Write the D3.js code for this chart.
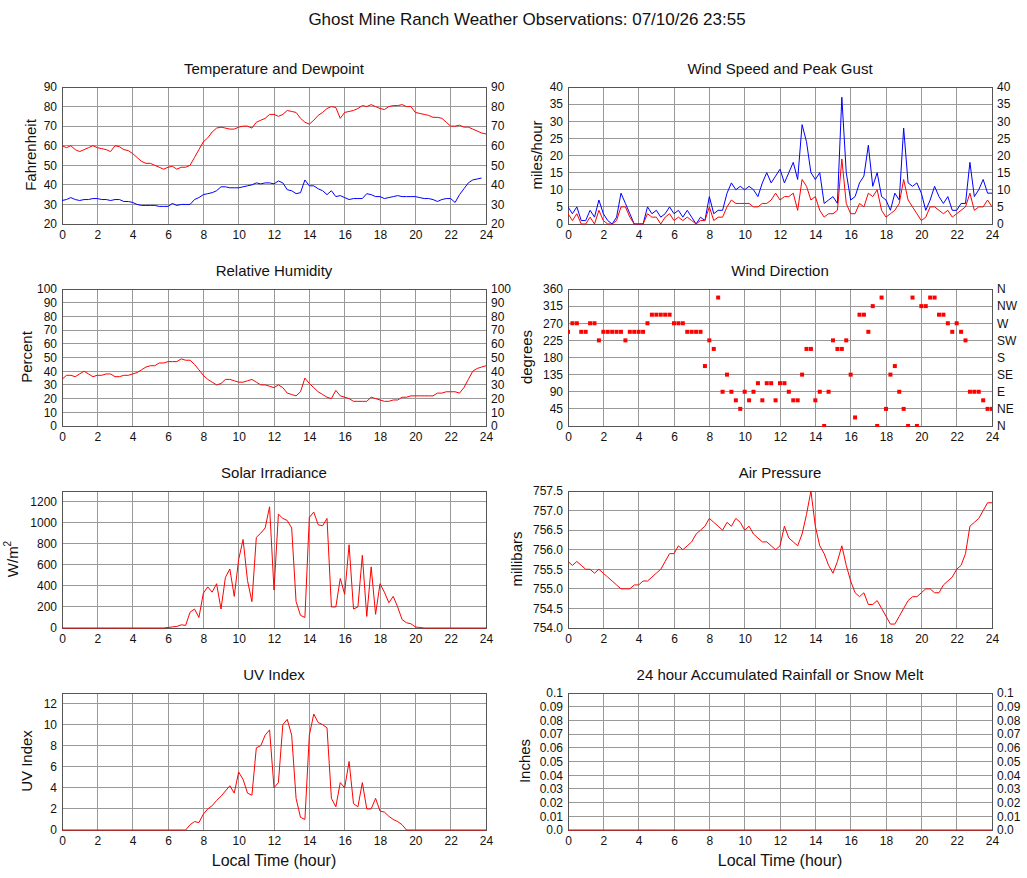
<!DOCTYPE html>
<html>
<head>
<meta charset="utf-8">
<script src="https://cdn.jsdelivr.net/npm/d3@7"></script>
<style>
  body { margin: 0; background: #fff; }
  text { font-family: "Liberation Sans", Arial, sans-serif; fill: #111; }
</style>
</head>
<body>
<svg id="chart" width="1027" height="878"></svg>
<script>
// readings every 15 minutes, 0..24 h
var hours = d3.range(0, 24.001, 0.25)

var temperature = [60,59,60,58,57,58,59,60,59,58.5,58,57,60,59.5,58,57.5,56,54,52,51,51,50,49,48,49,49.5,48,49,49,50,54,58,
  62,64,67,69,69.5,69,68.5,68.5,69.5,70,70,69,72,73,74,76,76,75,76,78,77.5,77,74,72,71,73,75.5,77,79,80,79.5,74,
  77,77.5,78,79,80.5,80,81,80,79,78.5,80,80.5,80.5,81,80,80,77,76.5,76,75.5,74.5,74.5,74,72,70,70,70.5,69.5,69.5,68.5,67.5,66.5,66]
var dewpoint = [32,32.5,33.5,32.5,32,32.5,32.5,33,33,32.5,32.5,32,32.5,32.5,31.5,31.5,31,30,29.5,29.5,29.5,29.5,29,29,29,30.5,29.5,30,30,30,32.5,33.5,
  35,35.5,36,37,39,39,38.5,38.5,38.5,39,39.5,40,41,40.5,41,41,40.5,42,41,37.5,37,35.5,36,42.5,39.5,39.5,38,37,35,37,34,
  34.5,33.5,32.5,33,33,33,35.5,35,34,34,33,33.5,34,34.5,34,34,34,34,33.5,33,33,32.5,31.5,32.5,33,33,31,35,38,41,42.5,43,43.5]
var humidity = [34,37,37,36,38,40,38,36,37,37,38,38,36,36,37,37,38,39,41,43,44,44,46,46,47,47,47,49,48,48,45,41,
  37,34,32,30,31,34,34,33,32,32,33,34,32,30,30,29,28,30,28,24,23,22,25,35,31,28,25,23,21,20,26,22,
  21,20,18,18,18,18,21,20,19,18,18,19,19,21,21,22,22,22,22,22,22,24,24,25,25,25,24,28,34,40,42,43,44]
var windSpeed = [3,1,3,0,0,2,0,4,1,0,0,1,5,5,2,0,0,0,3,2,2,0,2,3,1,2,1,2,1,0,1,1,
  5,1,2,2,5,7,6,6,6,6,5,5,6,6,7,9,7,8,8,9,4,13,11,7,8,4,2,3,3,4,19,6,
  3,3,6,5,9,8,10,4,2,3,4,6,13,7,5,3,1,2,5,5,4,3,4,2,3,4,5,9,4,5,5,7,5]
var windGust = [5,3,5,1,1,4,2,7,3,1,0,2,9,6,3,0,0,0,5,3,4,2,3,5,3,4,2,4,2,0,2,1,
  8,3,4,4,9,12,10,11,10,11,10,8,12,15,12,14,16,12,15,18,13,29,24,15,13,15,6,7,8,6,37,15,
  7,8,12,14,23,11,15,8,7,4,9,7,28,12,11,12,9,4,7,11,8,6,8,4,4,6,6,18,8,10,13,9,9]
var windDir = [247.5,270,270,247.5,247.5,270,270,225,247.5,247.5,247.5,247.5,247.5,225,247.5,247.5,247.5,247.5,270,292.5,292.5,292.5,292.5,292.5,270,270,270,247.5,247.5,247.5,247.5,157.5,
  225,202.5,337.5,90,135,90,67.5,45,90,67.5,90,112.5,67.5,112.5,112.5,67.5,112.5,112.5,90,67.5,67.5,135,202.5,202.5,67.5,90,0,90,225,202.5,202.5,225,
  135,22.5,292.5,292.5,247.5,315,0,337.5,45,135,157.5,90,45,0,337.5,0,315,315,337.5,337.5,292.5,292.5,270,247.5,270,247.5,225,90,90,90,67.5,45,45]
var solar = [0,0,0,0,0,0,0,0,0,0,0,0,0,0,0,0,0,0,0,0,0,0,0,0,5,10,15,30,25,150,180,100,
  330,390,340,420,180,480,560,300,650,840,450,250,860,900,950,1150,360,1080,1040,1020,950,250,120,100,1050,1100,980,970,1040,200,200,470,
  320,790,180,200,690,110,580,130,420,340,240,300,200,80,50,40,10,5,0,0,0,0,0,0,0,0,0,0,0,0,0,0,0]
var pressure = [755.7,755.6,755.7,755.6,755.5,755.5,755.4,755.5,755.4,755.3,755.2,755.1,755.0,755.0,755.0,755.1,755.1,755.2,755.2,755.3,755.4,755.5,755.7,755.9,755.9,756.1,756.0,756.1,756.2,756.4,756.5,756.6,
  756.8,756.7,756.6,756.5,756.7,756.6,756.8,756.7,756.5,756.6,756.4,756.3,756.2,756.2,756.1,756.0,756.1,756.6,756.3,756.2,756.1,756.4,756.9,757.5,756.6,756.1,755.9,755.6,755.4,755.7,756.1,755.6,
  755.2,754.9,754.8,754.9,754.6,754.6,754.7,754.5,754.3,754.1,754.1,754.3,754.5,754.7,754.8,754.8,754.9,755.0,755.0,754.9,754.9,755.1,755.2,755.3,755.5,755.6,755.9,756.6,756.7,756.8,757.0,757.2,757.2]
var uvIndex = [0,0,0,0,0,0,0,0,0,0,0,0,0,0,0,0,0,0,0,0,0,0,0,0,0,0,0,0,0,0.5,0.8,0.7,
  1.5,2,2.3,2.8,3.2,3.7,4.2,3.5,5.5,4.8,3.5,3.3,7.8,8,9,9.5,4,4.5,10,10.5,9,3,1.2,1,9,11,10.2,10,9.7,3,2.2,4.5,
  4,6.5,2.5,2.2,4.5,2,2,3,1.8,1.7,1.3,1,0.8,0.5,0,0,0,0,0,0,0,0,0,0,0,0,0,0,0,0,0,0,0]
var rainfall = [0,0,0,0,0,0,0,0,0,0,0,0,0,0,0,0,0,0,0,0,0,0,0,0,0,0,0,0,0,0,0,0,
  0,0,0,0,0,0,0,0,0,0,0,0,0,0,0,0,0,0,0,0,0,0,0,0,0,0,0,0,0,0,0,0,
  0,0,0,0,0,0,0,0,0,0,0,0,0,0,0,0,0,0,0,0,0,0,0,0,0,0,0,0,0,0,0,0,0]

var hourTicks = d3.range(0, 25, 2)
var compass = ["N","NE","E","SE","S","SW","W","NW","N"]
var rainTicks = d3.range(0, 11).map(d => d / 100)

var svg = d3.select("#chart")

svg.append("text")
    .attr("x", 527).attr("y", 25)
    .attr("text-anchor", "middle")
    .style("font-size", "17px")
    .text("Ghost Mine Ranch Weather Observations: 07/10/26 23:55")

function panel(opt) {
    var x = d3.scaleLinear().domain([0, 24]).range([opt.left, opt.left + 424])
    var y = d3.scaleLinear().domain(opt.domain).range([opt.top + 137, opt.top])
    var g = svg.append("g")

    // grid
    g.selectAll(".vg").data(hourTicks.slice(1, -1)).enter().append("line")
        .attr("x1", d => x(d)).attr("x2", d => x(d))
        .attr("y1", y.range()[0]).attr("y2", y.range()[1])
        .attr("stroke", "#999").attr("shape-rendering", "crispEdges")
    g.selectAll(".hg").data(opt.ticks).enter().append("line")
        .attr("x1", x(0)).attr("x2", x(24))
        .attr("y1", d => y(d)).attr("y2", d => y(d))
        .attr("stroke", "#999").attr("shape-rendering", "crispEdges")

    // axes
    g.append("g").attr("transform", "translate(0," + (opt.top + 137) + ")")
        .call(d3.axisBottom(x).tickValues(hourTicks).tickSize(0).tickPadding(6))
    g.append("g").attr("transform", "translate(" + opt.left + ",0)")
        .call(d3.axisLeft(y).tickValues(opt.ticks).tickSize(0).tickPadding(5).tickFormat(opt.fmt || d3.format("d")))
    if (opt.right) {
        g.append("g").attr("transform", "translate(" + (opt.left + 424) + ",0)")
            .call(d3.axisRight(y).tickValues(opt.ticks).tickSize(0).tickPadding(5).tickFormat(opt.right))
    }
    g.selectAll(".domain").remove()
    g.selectAll(".tick text").style("font-size", "12px").style("font-family", "Liberation Sans, Arial, sans-serif").attr("fill", "#111")

    g.append("rect")
        .attr("x", opt.left).attr("y", opt.top).attr("width", 424).attr("height", 137)
        .attr("fill", "none").attr("stroke", "#555").attr("shape-rendering", "crispEdges")

    g.append("text")
        .attr("x", opt.left + 212).attr("y", opt.top - 13)
        .attr("text-anchor", "middle").style("font-size", "15px")
        .text(opt.title)

    var lab = g.append("text")
        .attr("transform", "translate(" + (opt.left + opt.labelOff) + "," + (opt.top + 68) + ") rotate(-90)")
        .attr("text-anchor", "middle").style("font-size", "15px")
    if (opt.label === "W/m2") {
        lab.text("W/m")
        lab.append("tspan").attr("dy", -7).style("font-size", "10px").text("2")
    } else {
        lab.text(opt.label)
    }

    var clip = "clip" + opt.title.replace(/\W/g, "")
    g.append("clipPath").attr("id", clip).append("rect")
        .attr("x", opt.left).attr("y", opt.top - 1).attr("width", 424).attr("height", 139)

    opt.series.forEach(function (s) {
        if (opt.dots) {
            g.append("g").attr("clip-path", "url(#" + clip + ")")
                .selectAll("rect").data(s.values).enter().append("rect")
                .attr("x", (d, i) => x(hours[i]) - 2).attr("y", d => y(d) - 2)
                .attr("width", 4).attr("height", 4).attr("fill", s.color)
        } else {
            g.append("path").datum(s.values)
                .attr("clip-path", "url(#" + clip + ")")
                .attr("fill", "none").attr("stroke", s.color).attr("stroke-width", 1)
                .attr("d", d3.line().x((d, i) => x(hours[i])).y(d => y(d)))
        }
    })

    if (opt.xlabel) {
        g.append("text")
            .attr("x", opt.left + 212).attr("y", opt.top + 173)
            .attr("text-anchor", "middle").style("font-size", "16px")
            .text("Local Time (hour)")
    }
}

var L = 62, R = 568
var same = d3.format("d")

panel({left: L, top: 87, domain: [20, 90], ticks: d3.range(20, 91, 10), right: same,
    title: "Temperature and Dewpoint", label: "Fahrenheit", labelOff: -26,
    series: [{values: temperature, color: "#ff0000"}, {values: dewpoint, color: "#0000ff"}]})
panel({left: R, top: 87, domain: [0, 40], ticks: d3.range(0, 41, 5), right: same,
    title: "Wind Speed and Peak Gust", label: "miles/hour", labelOff: -26,
    series: [{values: windGust, color: "#0000ff"}, {values: windSpeed, color: "#ff0000"}]})

panel({left: L, top: 289, domain: [0, 100], ticks: d3.range(0, 101, 10), right: same,
    title: "Relative Humidity", label: "Percent", labelOff: -30,
    series: [{values: humidity, color: "#ff0000"}]})
panel({left: R, top: 289, domain: [0, 360], ticks: d3.range(0, 361, 45), right: (d, i) => compass[i],
    title: "Wind Direction", label: "degrees", labelOff: -36, dots: true,
    series: [{values: windDir, color: "#ff0000"}]})

panel({left: L, top: 491, domain: [0, 1300], ticks: d3.range(0, 1201, 200),
    title: "Solar Irradiance", label: "W/m2", labelOff: -44,
    series: [{values: solar, color: "#ff0000"}]})
panel({left: R, top: 491, domain: [754, 757.5], ticks: d3.range(754, 757.51, 0.5), fmt: d3.format(".1f"),
    title: "Air Pressure", label: "millibars", labelOff: -46,
    series: [{values: pressure, color: "#ff0000"}]})

panel({left: L, top: 693, domain: [0, 13], ticks: d3.range(0, 13, 2),
    title: "UV Index", label: "UV Index", labelOff: -30, xlabel: true,
    series: [{values: uvIndex, color: "#ff0000"}]})
var rainFmt = d => d === 0 ? "0.0" : String(+d.toFixed(2))
panel({left: R, top: 693, domain: [0, 0.1], ticks: rainTicks, fmt: rainFmt, right: rainFmt,
    title: "24 hour Accumulated Rainfall or Snow Melt", label: "Inches", labelOff: -38, xlabel: true,
    series: [{values: rainfall, color: "#ff0000"}]})
</script>
</body>
</html>
